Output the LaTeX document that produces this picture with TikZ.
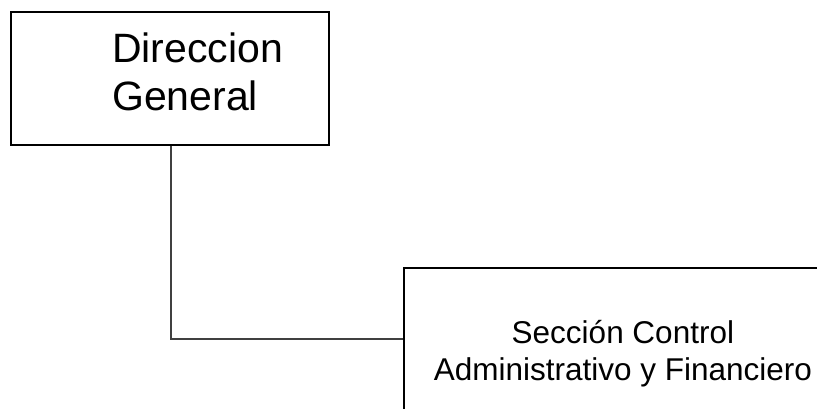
\documentclass[tikz,border=0pt]{standalone}
\usepackage{fontspec}
\setmainfont{Liberation Sans}
\usepackage{tikz}
\usepackage{xcolor}

\tikzset{
  unitbox/.style={draw, line width=1.8pt, rectangle, inner sep=0pt},
  linker/.style={line width=1.2pt, color=black!75}
}

\begin{document}
\begin{tikzpicture}[x=1pt, y=-1pt]
  \useasboundingbox (0,0) rectangle (817,408);
  % boxes
  \node[unitbox, anchor=north west, minimum width=318pt, minimum height=133pt] (direccion) at (10,11) {};
  \node[anchor=base west, align=left, inner sep=0pt, font=\fontsize{41}{48}\selectfont] (direccion text) at (112,110) {Direccion\\General};
  \node[unitbox, anchor=north west, minimum width=438pt, minimum height=172pt, align=center,
        font=\fontsize{31.5}{37}\selectfont] (seccion) at (403,267) {Sección Control\\Administrativo y Financiero};
  % connector
  \coordinate (elbow) at (171,339);
  \draw[linker] (direccion.south -| elbow) |- (seccion.west |- elbow);
\end{tikzpicture}
\end{document}
